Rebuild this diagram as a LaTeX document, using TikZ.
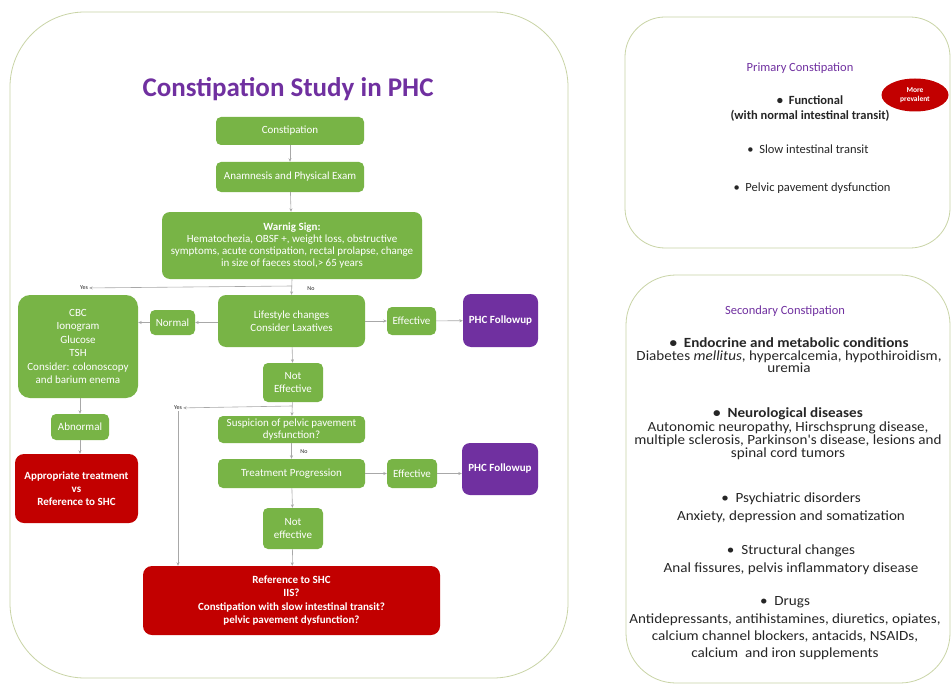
\documentclass[tikz,border=0pt]{standalone}
\usepackage{fontspec}
\setmainfont{Carlito}
\newfontfamily\rfont[FakeStretch=1.08]{Carlito}
\usetikzlibrary{arrows.meta,shapes.geometric}
\definecolor{gfill}{HTML}{78B446}
\definecolor{rfill}{HTML}{C20000}
\definecolor{pfill}{HTML}{7030A0}
\definecolor{ttl}{HTML}{7030A0}
\definecolor{frm}{HTML}{C9D4A6}
\definecolor{cgrey}{HTML}{A8A8A8}
\definecolor{txt}{HTML}{262626}
\begin{document}
\begin{tikzpicture}[x=1pt,y=-1pt,
  box/.style={rounded corners=5pt, inner sep=1pt, align=center, text=white, font=\fontsize{11}{12.5}\selectfont},
  gbox/.style={box, fill=gfill},
  rbox/.style={box, fill=rfill, rounded corners=9pt, font=\bfseries\fontsize{11}{13}\selectfont},
  pbox/.style={box, fill=pfill, rounded corners=8pt, font=\bfseries\fontsize{11}{13}\selectfont},
  sz/.style 2 args={minimum width=#1pt, minimum height=#2pt},
  conn/.style={draw=cgrey, line width=0.6pt, -{Stealth[length=3.5pt,width=3pt]}},
  lbl/.style={font=\fontsize{6}{7}\selectfont, text=txt, inner sep=1pt},
  frame/.style={draw=frm, line width=0.8pt},
  rtxt/.style={align=center, text=txt, inner sep=0pt, font=\rfont\fontsize{14}{17.3}\selectfont},
  rttl/.style={align=center, text=ttl, inner sep=0pt, font=\fontsize{12.5}{15}\selectfont}
]
\useasboundingbox (0,0) rectangle (952,687);
\fill[white] (0,0) rectangle (952,687);

% panels
\draw[frame, rounded corners=75pt] (10,12) rectangle (568,678);
\draw[frame, rounded corners=40pt] (625,17) rectangle (950,248);
\draw[frame, rounded corners=50pt] (626,275) rectangle (950,683);

% title
\node[anchor=base, text=ttl, font=\bfseries\fontsize{27}{30}\selectfont, inner sep=0pt] (title) at (288,97) {Constipation Study in PHC};

% flowchart nodes
\node[gbox, sz={148}{28}] (cons) at (290,131) {Constipation};
\node[gbox, sz={148}{30}] (anam) at (290,177) {Anamnesis and Physical Exam};
\node[gbox, sz={260}{67}, font=\fontsize{11}{12}\selectfont, rounded corners=8pt] (warn) at (292,245.5) {\textbf{Warnig Sign:}\\Hematochezia, OBSF +, weight loss, obstructive\\symptoms, acute constipation, rectal prolapse, change\\in size of faeces stool,> 65 years};
\node[gbox, sz={120}{103}, font=\fontsize{11}{13.4}\selectfont, rounded corners=12pt] (cbc) at (78,346.5) {CBC\\Ionogram\\Glucose\\TSH\\Consider: colonoscopy\\and barium enema};
\node[gbox, sz={45}{25}] (normal) at (172.5,322.5) {Normal};
\node[gbox, sz={147}{52}, rounded corners=8pt] (life) at (291.5,321) {Lifestyle changes\\Consider Laxatives};
\node[gbox, sz={49}{28}] (eff1) at (411.5,321) {Effective};
\node[pbox, sz={75}{53}] (phc1) at (500.5,320.5) {PHC Followup};
\node[gbox, sz={60}{39}, font=\fontsize{11}{13}\selectfont] (ne1) at (293,382.5) {Not\\Effective};
\node[gbox, sz={147}{27}] (susp) at (291.5,429.5) {Suspicion of pelvic pavement\\dysfunction?};
\node[gbox, sz={147}{29}] (treat) at (291.5,473.5) {Treatment Progression};
\node[gbox, sz={50}{29}] (eff2) at (412,473.5) {Effective};
\node[pbox, sz={76}{52}] (phc2) at (500,469) {PHC Followup};
\node[gbox, sz={60}{41}, font=\fontsize{11}{13}\selectfont] (ne2) at (293,528.5) {Not\\effective};
\node[gbox, sz={58}{26}] (abn) at (80,427) {Abnormal};
\node[rbox, sz={123}{69}] (appr) at (76.5,488.5) {Appropriate treatment\\vs\\Reference to SHC};
\node[rbox, sz={297}{69}, font=\bfseries\fontsize{11}{13.2}\selectfont] (final) at (291.5,600.5) {Reference to SHC\\IIS?\\Constipation with slow intestinal transit?\\pelvic pavement dysfunction?};

% labels
\node[lbl] (yes1) at (84,288) {Yes};
\node[lbl] (no1) at (311,289) {No};
\node[lbl] (yes2) at (178,408) {Yes};
\node[lbl] (no2) at (304,452) {No};
\coordinate (b1) at (292,286);
\coordinate (b2) at (292,406);

% connectors
\draw[conn] (cons) -- (anam);
\draw[conn] (anam) -- (warn);
\draw[conn] (warn.south) -- (life.north);
\draw[conn] (b1) -- (yes1);
\draw[conn] (life.west |- normal) -- (normal);
\draw[conn] (normal) -- (normal -| cbc.east);
\draw[conn] (life) -- (eff1);
\draw[conn] (eff1) -- (phc1);
\draw[conn] (life) -- (ne1);
\draw[conn] (ne1) -- (susp);
\draw[conn] (b2) -- (yes2);
\draw[conn] (yes2.south) -- (yes2.south |- final.north);
\draw[conn] (susp) -- (treat);
\draw[conn] (treat) -- (eff2);
\draw[conn] (eff2.east) -- (eff2.east -| phc2.west);
\draw[conn] (treat) -- (ne2);
\draw[conn] (ne2) -- (final);
\draw[conn] (cbc.south -| abn) -- (abn);
\draw[conn] (abn) -- (appr.north -| abn);

% primary constipation
\node[rttl] (ptitle) at (800,68) {Primary Constipation};
\node[ellipse, fill=rfill, sz={67}{33}, inner sep=0pt, align=center, text=white, font=\bfseries\fontsize{7.5}{8.5}\selectfont] (more) at (915,95) {More\\prevalent};
\node[rtxt, font=\bfseries\fontsize{12.5}{15.5}\selectfont] (func) at (810,108.5) {\textbullet\ \ Functional\\(with normal intestinal transit)};
\node[rtxt, font=\fontsize{12.5}{15}\selectfont] (slow) at (808,149) {\textbullet\ \ Slow intestinal transit};
\node[rtxt, font=\fontsize{12.5}{15}\selectfont] (pelv) at (812,188) {\textbullet\ \ Pelvic pavement dysfunction};

% secondary constipation
\node[rttl] (stitle) at (785,311) {Secondary Constipation};
\node[rtxt, font=\rfont\fontsize{14}{12.6}\selectfont] (endo) at (789,355.5) {\textbf{\textbullet\ \ Endocrine and metabolic conditions}\\Diabetes \emph{mellitus}, hypercalcemia, hypothiroidism,\\uremia};
\node[rtxt, font=\rfont\fontsize{14}{13.4}\selectfont] (neuro) at (788,434) {\textbf{\textbullet\ \ Neurological diseases}\\Autonomic neuropathy, Hirschsprung disease,\\multiple sclerosis, Parkinson's disease, lesions and\\spinal cord tumors};
\node[rtxt, font=\rfont\fontsize{14}{18.5}\selectfont] (psych) at (791,508) {\textbullet\ \ Psychiatric disorders\\Anxiety, depression and somatization};
\node[rtxt, font=\rfont\fontsize{14}{18.5}\selectfont] (struct) at (791,560) {\textbullet\ \ Structural changes\\Anal fissures, pelvis inflammatory disease};
\node[rtxt] (drugs) at (785,628.5) {\textbullet\ \ Drugs\\Antidepressants, antihistamines, diuretics, opiates,\\calcium channel blockers, antacids, NSAIDs,\\calcium\ \ and iron supplements};
\end{tikzpicture}
\end{document}
